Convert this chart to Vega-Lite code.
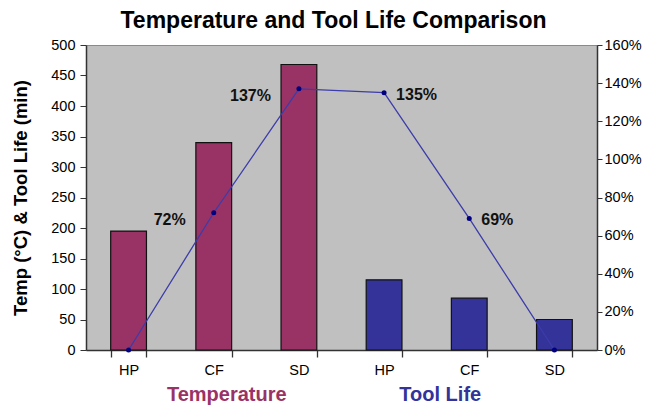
{
  "$schema": "https://vega.github.io/schema/vega-lite/v6.json",
  "width": 511,
  "height": 305,
  "padding": {"left": 11, "top": 10, "right": 26, "bottom": 0},
  "background": "white",
  "config": {
    "font": "Liberation Sans",
    "view": {"fill": "#c0c0c0", "stroke": "#8a8a8a", "strokeWidth": 1}
  },
  "title": {
    "text": "Temperature and Tool Life Comparison",
    "fontSize": 23,
    "fontWeight": "bold",
    "color": "#000000",
    "anchor": "middle",
    "offset": 4,
    "dx": -8
  },
  "data": {"values": [
      {"cat": "T-HP", "group": "Temperature", "value": 195, "pct": 0.0, "side": ""},
      {"cat": "T-CF", "group": "Temperature", "value": 340, "pct": 0.72, "side": "L"},
      {"cat": "T-SD", "group": "Temperature", "value": 468, "pct": 1.37, "side": "L"},
      {"cat": "L-HP", "group": "Tool Life", "value": 115, "pct": 1.35, "side": "R"},
      {"cat": "L-CF", "group": "Tool Life", "value": 85, "pct": 0.69, "side": "R"},
      {"cat": "L-SD", "group": "Tool Life", "value": 50, "pct": 0.0, "side": ""}
  ]},
  "layer": [
    {
      "mark": {"type": "bar", "stroke": "#111111", "strokeWidth": 1.2},
      "encoding": {
        "x": {
          "field": "cat",
          "type": "nominal",
          "sort": null,
          "scale": {"paddingInner": 0.58, "paddingOuter": 0.29},
          "axis": {
            "title": null,
            "labelAngle": 0,
            "labelExpr": "datum.value ? substring(datum.value, 2) : ''",
            "labelFontSize": 14.5,
            "labelColor": "#000000",
            "labelPadding": 6,
            "tickBand": "extent",
            "tickSize": 7,
            "tickWidth": 1.3,
            "tickColor": "#333333",
            "domainColor": "#333333",
            "domainWidth": 1.5
          }
        },
        "y": {
          "field": "value",
          "type": "quantitative",
          "scale": {"domain": [0, 500], "nice": false},
          "axis": {
            "title": "Temp (°C) & Tool Life (min)",
            "titleFontSize": 18.5,
            "titleColor": "#000000",
            "titlePadding": 20,
            "values": [0, 50, 100, 150, 200, 250, 300, 350, 400, 450, 500],
            "labelFontSize": 14.5,
            "labelColor": "#000000",
            "labelPadding": 5,
            "tickSize": 6,
            "tickColor": "#333333",
            "domainColor": "#333333",
            "domainWidth": 1.5,
            "grid": false
          }
        },
        "color": {
          "field": "group",
          "type": "nominal",
          "scale": {"domain": ["Temperature", "Tool Life"], "range": ["#993366", "#333399"]},
          "legend": null
        }
      }
    },
    {
      "mark": {"type": "line", "color": "#3c3cab", "strokeWidth": 1.3, "point": {"filled": true, "color": "#000080", "size": 25}},
      "encoding": {
        "x": {"field": "cat", "type": "nominal", "sort": null},
        "y": {
          "field": "pct",
          "type": "quantitative",
          "scale": {"domain": [0, 1.6], "nice": false},
          "axis": {
            "orient": "right",
            "title": null,
            "format": ".0%",
            "values": [0, 0.2, 0.4, 0.6, 0.8, 1.0, 1.2, 1.4, 1.6],
            "labelFontSize": 14.5,
            "labelColor": "#000000",
            "labelPadding": 2,
            "tickSize": 5,
            "tickColor": "#333333",
            "domainColor": "#333333",
            "domainWidth": 1.5,
            "grid": false
          }
        }
      }
    },
    {
      "transform": [{"filter": "datum.side == 'L'"}],
      "mark": {"type": "text", "align": "right", "baseline": "middle", "dx": -28, "dy": 7, "fontSize": 16, "fontWeight": "bold", "color": "#111111"},
      "encoding": {
        "x": {"field": "cat", "type": "nominal", "sort": null},
        "y": {"field": "pct", "type": "quantitative", "scale": {"domain": [0, 1.6], "nice": false}, "axis": null},
        "text": {"field": "pct", "type": "quantitative", "format": ".0%"}
      }
    },
    {
      "transform": [{"filter": "datum.side == 'R'"}],
      "mark": {"type": "text", "align": "left", "baseline": "middle", "dx": 12, "dy": 2, "fontSize": 16, "fontWeight": "bold", "color": "#111111"},
      "encoding": {
        "x": {"field": "cat", "type": "nominal", "sort": null},
        "y": {"field": "pct", "type": "quantitative", "scale": {"domain": [0, 1.6], "nice": false}, "axis": null},
        "text": {"field": "pct", "type": "quantitative", "format": ".0%"}
      }
    },
    {
      "transform": [{"filter": "datum.cat == 'T-CF'"}],
      "mark": {"type": "text", "fontSize": 20, "fontWeight": "bold", "color": "#993366", "dx": 13, "dy": 45, "baseline": "middle"},
      "encoding": {
        "x": {"field": "cat", "type": "nominal", "sort": null},
        "y": {"datum": 0, "type": "quantitative", "scale": {"domain": [0, 500], "nice": false}, "axis": null},
        "text": {"field": "group", "type": "nominal"}
      }
    },
    {
      "transform": [{"filter": "datum.cat == 'L-CF'"}],
      "mark": {"type": "text", "fontSize": 20, "fontWeight": "bold", "color": "#333399", "dx": -29, "dy": 45, "baseline": "middle"},
      "encoding": {
        "x": {"field": "cat", "type": "nominal", "sort": null},
        "y": {"datum": 0, "type": "quantitative", "scale": {"domain": [0, 500], "nice": false}, "axis": null},
        "text": {"field": "group", "type": "nominal"}
      }
    }
  ],
  "resolve": {"scale": {"y": "independent"}}
}
